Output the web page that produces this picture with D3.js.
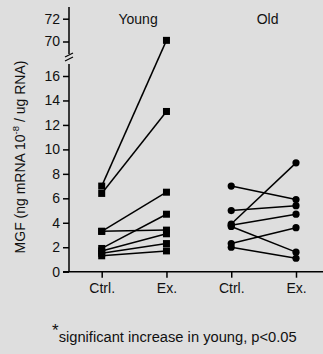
<!DOCTYPE html>
<html>
  <head>
    <meta charset="utf-8">
    <title>MGF young vs old</title>
    <script src="https://cdn.jsdelivr.net/npm/d3@7"></script>
    <style>
      body { margin: 0; background: #dedede; }
      svg { display: block; }
      text { font-family: "Liberation Sans", Arial, sans-serif; fill: #111; }
    </style>
  </head>
  <body>
    <div id="chart"></div>
    <script>
      // categories along the x axis
      var conditions = ["Ctrl.", "Ex.", "Ctrl.", "Ex."];
      var groups = ["Young", "Old"];

      // paired values per subject (ng mRNA 10^-8 / ug RNA)
      var youngCtrl = [7.0, 6.4, 3.3, 3.3, 1.9, 1.7, 1.5, 1.3];
      var youngEx   = [70.1, 13.1, 6.5, 3.4, 4.7, 3.1, 2.3, 1.7];
      var oldCtrl   = [7.0, 5.0, 3.9, 3.8, 3.7, 2.3, 2.0];
      var oldEx     = [5.9, 5.4, 8.9, 4.7, 1.6, 3.6, 1.1];

      var lowerTicks = [0, 2, 4, 6, 8, 10, 12, 14, 16];
      var upperTicks = [70, 72];

      var width = 323, height = 354;

      var svg = d3.select("#chart").append("svg")
        .attr("width", width)
        .attr("height", height);

      var axisX = 69;
      var x = d3.scalePoint()
        .domain([0, 1, 2, 3])
        .range([101.7, 296])

      // broken y axis: two scales
      var yLow = d3.scaleLinear().domain([0, 16]).range([271.7, 76]);
      var yHigh = d3.scaleLinear().domain([70, 72]).range([41.5, 18.7]);
      function y(v) { return v > 30 ? yHigh(v) : yLow(v); }

      // lower axis segment
      var gLow = svg.append("g")
        .attr("transform", "translate(" + axisX + ",0)")
        .call(d3.axisLeft(yLow).tickValues(lowerTicks).tickSize(6).tickPadding(3).tickFormat(d3.format("d")));
      gLow.select(".domain").remove();
      gLow.append("line")
        .attr("x1", 0).attr("x2", 0)
        .attr("y1", yLow(0)).attr("y2", 64)
        .attr("stroke", "#000").attr("stroke-width", 1.5);

      var gHigh = svg.append("g")
        .attr("transform", "translate(" + axisX + ",0)")
        .call(d3.axisLeft(yHigh).tickValues(upperTicks).tickSize(6).tickPadding(3).tickFormat(d3.format("d")));
      gHigh.select(".domain").remove();
      gHigh.append("line")
        .attr("x1", 0).attr("x2", 0)
        .attr("y1", 7).attr("y2", 54)
        .attr("stroke", "#000").attr("stroke-width", 1.5);

      svg.selectAll(".tick line").attr("stroke", "#000").attr("stroke-width", 1.5);
      svg.selectAll(".tick text")
        .style("font-size", "14px")
        .style("font-family", "Liberation Sans, Arial, sans-serif")
        .attr("fill", "#111");

      // break marks
      [0, 4].forEach(function(off) {
        svg.append("line")
          .attr("x1", axisX - 4).attr("y1", 57 + off)
          .attr("x2", axisX + 4).attr("y2", 53 + off)
          .attr("stroke", "#000").attr("stroke-width", 1.2);
      });

      // x axis
      svg.append("line")
        .attr("x1", 63).attr("x2", width)
        .attr("y1", yLow(0)).attr("y2", yLow(0))
        .attr("stroke", "#000").attr("stroke-width", 1.5);
      var gx = svg.append("g")
        .attr("transform", "translate(0," + yLow(0) + ")")
        .call(d3.axisBottom(x).tickSize(6).tickPadding(5).tickFormat(function(d) { return conditions[d]; }));
      gx.select(".domain").remove();
      gx.selectAll(".tick line").attr("stroke", "#000").attr("stroke-width", 1.5);
      gx.selectAll(".tick text")
        .style("font-size", "14px")
        .style("font-family", "Liberation Sans, Arial, sans-serif")
        .attr("fill", "#111");

      // group labels
      svg.selectAll(".grp").data(groups).enter().append("text")
        .attr("class", "grp")
        .attr("x", function(d, i) { return (x(i * 2) + x(i * 2 + 1)) / 2 + 4; })
        .attr("y", 24)
        .attr("text-anchor", "middle")
        .style("font-size", "14px")
        .text(function(d) { return d; });

      // paired lines
      function drawPairs(ctrl, ex, i0, shape) {
        var pairs = ctrl.map(function(c, i) { return [c, ex[i]]; });
        svg.selectAll(null).data(pairs).enter().append("line")
          .attr("x1", x(i0)).attr("y1", function(d) { return y(d[0]); })
          .attr("x2", x(i0 + 1)).attr("y2", function(d) { return y(d[1]); })
          .attr("stroke", "#000").attr("stroke-width", 1.5);
        var pts = [];
        pairs.forEach(function(d) {
          pts.push({ xi: i0, v: d[0] });
          pts.push({ xi: i0 + 1, v: d[1] });
        });
        if (shape === "square") {
          svg.selectAll(null).data(pts).enter().append("rect")
            .attr("x", function(d) { return x(d.xi) - 3.5; })
            .attr("y", function(d) { return y(d.v) - 3.5; })
            .attr("width", 7).attr("height", 7)
            .attr("fill", "#000");
        } else {
          svg.selectAll(null).data(pts).enter().append("circle")
            .attr("cx", function(d) { return x(d.xi); })
            .attr("cy", function(d) { return y(d.v); })
            .attr("r", 3.6)
            .attr("fill", "#000");
        }
      }
      drawPairs(youngCtrl, youngEx, 0, "square");
      drawPairs(oldCtrl, oldEx, 2, "circle");

      // y label
      var yl = svg.append("text")
        .attr("transform", "translate(24.5,157) rotate(-90)")
        .attr("text-anchor", "middle")
        .style("font-size", "14px");
      yl.append("tspan").text("MGF (ng mRNA 10");
      yl.append("tspan").attr("dy", -6).style("font-size", "9.5px").text("-8");
      yl.append("tspan").attr("dy", 6).text(" / ug RNA)");

      // footnote
      var fn = svg.append("text")
        .attr("x", 52).attr("y", 342)
        .style("font-size", "14.7px");
      fn.append("tspan").attr("dy", -6).style("font-size", "17px").text("*");
      fn.append("tspan").attr("dy", 6).text("significant increase in young, p<0.05");
    </script>
  </body>
</html>
